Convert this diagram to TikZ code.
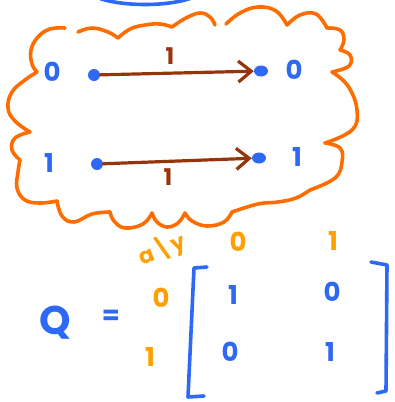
\documentclass[tikz,border=0pt]{standalone}
\usepackage{fontspec}
\setmainfont{Poppins}
\usetikzlibrary{arrows.meta,shapes.geometric}
\definecolor{pblue}{RGB}{45,105,245}
\definecolor{porange}{RGB}{255,108,0}
\definecolor{plorange}{RGB}{255,160,0}
\definecolor{pbrown}{RGB}{150,52,12}
\tikzset{
  cloudline/.style={draw=porange,line width=3.6pt,line cap=round,line join=round},
  bluedot/.style={circle,fill=pblue,inner sep=0pt,minimum size=12pt},
  blueend/.style={ellipse,fill=pblue,inner sep=0pt,minimum width=14pt,minimum height=11pt},
  arr/.style={draw=pbrown,line width=3.2pt,line cap=round,-{Straight Barb[length=13pt,width=21pt]}},
  lab/.style={font=\fontsize{26}{26}\selectfont\bfseries,inner sep=0pt},
  bluelab/.style={lab,text=pblue},
  brownlab/.style={lab,text=pbrown,font=\fontsize{23}{23}\selectfont\bfseries},
  orlab/.style={lab,text=plorange},
  bracket/.style={draw=pblue,line width=3.6pt,line cap=round,line join=round},
}
\begin{document}
\begin{tikzpicture}[x=1pt,y=-1pt]
\useasboundingbox (0,0) rectangle (394,402);
% top blue arc
\draw[pblue,line width=3.6pt,line cap=round] (96,-3) .. controls (120,7) and (170,7) .. (194,-3);
% cloud
\draw[cloudline] plot[smooth,tension=0.7] coordinates {(78,32) (92,28) (108,32) (118,38)};
\draw[cloudline] plot[smooth,tension=0.7] coordinates {(118,38) (130,29) (145,25) (160,24) (172,27)};
\draw[cloudline] plot[smooth,tension=0.7] coordinates {(172,27) (186,18) (200,13) (210,17) (215,25)};
\draw[cloudline] plot[smooth,tension=0.7] coordinates {(226,24) (240,13) (258,7) (276,11) (287,25)};
\draw[cloudline] plot[smooth,tension=0.7] coordinates {(287,25) (300,15) (316,14) (327,28)};
\draw[cloudline] plot[smooth,tension=0.7] coordinates {(327,28) (340,30) (344,40) (340,50)};
\draw[cloudline] plot[smooth,tension=0.7] coordinates {(340,50) (350,55) (349,66) (332,72)};
\draw[cloudline] plot[smooth,tension=0.7] coordinates {(332,72) (348,86) (357,110) (352,130) (325,143)};
\draw[cloudline] plot[smooth,tension=0.7] coordinates {(325,143) (340,148) (342,162) (335,178) (310,190)};
\draw[cloudline] plot[smooth,tension=0.7] coordinates {(310,190) (296,198) (278,202) (258,204) (232,212)};
\draw[cloudline] plot[smooth,tension=0.7] coordinates {(232,212) (224,222) (207,226) (192,221) (185,213)};
\draw[cloudline] plot[smooth,tension=0.7] coordinates {(185,213) (178,223) (167,227) (157,222) (152,213)};
\draw[cloudline] plot[smooth,tension=0.7] coordinates {(152,213) (143,224) (125,228) (114,221) (110,212)};
\draw[cloudline] plot[smooth,tension=0.7] coordinates {(110,212) (92,214) (74,222) (62,216) (57,201)};
\draw[cloudline] plot[smooth,tension=0.7] coordinates {(57,201) (40,203) (25,200) (17,188) (18,172) (20,160)};
\draw[cloudline] plot[smooth,tension=0.7] coordinates {(20,160) (12,150) (15,138) (30,132)};
\draw[cloudline] plot[smooth,tension=0.7] coordinates {(30,132) (15,121) (8,108) (12,92) (25,80) (37,72)};
\draw[cloudline] plot[smooth,tension=0.7] coordinates {(37,72) (32,64) (31,50) (38,37) (50,29) (65,28)};
% top row
\node[bluelab] (l0) at (52,72) {0};
\node[bluedot] (a0) at (94,75) {};
\node[blueend] (b0) at (261,71) {};
\node[bluelab] (r0) at (294,70) {0};
\draw[arr] (a0) -- (b0);
\node[brownlab] (w0) at (170,56) {1};
% bottom row
\node[bluelab] (l1) at (49,163) {1};
\node[bluedot] (a1) at (97,164) {};
\node[blueend] (b1) at (259,158) {};
\node[bluelab] (r1) at (297,157) {1};
\draw[arr] (a1) -- (b1);
\node[brownlab] (w1) at (168,177) {1};
% matrix headers
\node[orlab,rotate=22,font=\fontsize{22}{22}\selectfont\bfseries] (xy) at (162,249) {a\kern1pt\textbackslash\kern1pt y};
\node[orlab] (c0) at (238,242) {0};
\node[orlab] (c1) at (333,241) {1};
\node[orlab] (h0) at (161,298) {0};
\node[orlab] (h1) at (150,357) {1};
% Q =
\node[bluelab,font=\fontsize{40}{40}\selectfont\bfseries] (q) at (55,323) {Q};
\node[bluelab] (eq) at (111,317) {=};
% brackets
\draw[bracket] (207,267) -- (194,268) -- (188,397) -- (204,396);
\draw[bracket] (371,262) -- (387,265) -- (386,391) -- (377,393);
% entries
\node[bluelab] (m11) at (233,295) {1};
\node[bluelab] (m12) at (332,292) {0};
\node[bluelab] (m21) at (230,352) {0};
\node[bluelab] (m22) at (330,352) {1};
\end{tikzpicture}
\end{document}
